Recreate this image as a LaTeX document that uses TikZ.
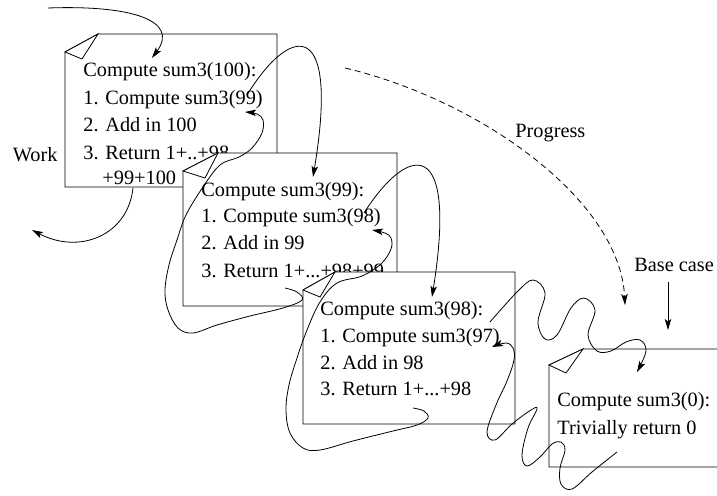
\documentclass[tikz,border=0pt]{standalone}
\usepackage{fontspec}
\setmainfont{Liberation Serif}
\usetikzlibrary{arrows.meta}
\begin{document}
\begin{tikzpicture}[x=1pt,y=-1pt,line width=0.8pt,
  txt/.style={font=\fontsize{20.3}{24}\selectfont, anchor=base west, inner sep=0pt},
  page/.style={draw=black, fill=white, line join=miter},
  arr/.style={-{Stealth[length=11pt,width=6.5pt,inset=2.5pt]}},
  flow/.style={arr, smooth, tension=0.6}]
\useasboundingbox (0,0) rectangle (717,495);
% ---- page 1
\draw[page] (98,34) -- (277,34) -- (277,187) -- (65,187) -- (65,52) -- cycle;
\draw[page] (65,52) -- (82,59) -- (98,34) -- cycle;
\node[txt] (t1a) at (83,77) {Compute sum3(100):};
\node[txt] (t1b) at (83,104) {1. Compute sum3(99)};
\node[txt] (t1c) at (83,131) {2. Add in 100};
\node[txt] (t1d) at (83,159) {3. Return 1+..+98};
\node[txt] (t1e) at (102,184) {+99+100};
% ---- page 2
\draw[page] (218,153) -- (397,153) -- (397,306) -- (183,306) -- (183,171) -- cycle;
\draw[page] (183,171) -- (205,178) -- (218,153) -- cycle;
\node[txt] (t2a) at (201,196) {Compute sum3(99):};
\node[txt] (t2b) at (201,222) {1. Compute sum3(98)};
\node[txt] (t2c) at (201,249) {2. Add in 99};
\node[txt] (t2d) at (201,277) {3. Return 1+...+98+99};
% ---- page 3
\draw[page] (335,272) -- (515,272) -- (515,424) -- (303,424) -- (303,290) -- cycle;
\draw[page] (303,290) -- (320,297) -- (335,272) -- cycle;
\node[txt] (t3a) at (320,315.5) {Compute sum3(98):};
\node[txt] (t3b) at (320,342) {1. Compute sum3(97)};
\node[txt] (t3c) at (320,369) {2. Add in 98};
\node[txt] (t3d) at (320,395.5) {3. Return 1+...+98};
% ---- page 4
\draw[page] (583,349) -- (730,349) -- (730,467) -- (549,467) -- (549,365) -- cycle;
\draw[page] (549,365) -- (566,373) -- (583,349) -- cycle;
\node[txt] (t4a) at (557,406.7) {Compute sum3(0):};
\node[txt] (t4b) at (557,434) {Trivially return 0};
% ---- labels
\node[txt] (work) at (12.5,161.7) {Work};
\node[txt] (prog) at (515,137.3) {Progress};
\node[txt] (base) at (634,271.7) {Base case};
% ---- connector end points
\coordinate (in0) at (48,8);
\coordinate (c1) at (152,58);
\coordinate (s1) at (247,95);
\coordinate (c2) at (313,177);
\coordinate (s2) at (364,213);
\coordinate (c3) at (432,297);
\coordinate (s3) at (490,322);
\coordinate (c4) at (637,372);
\coordinate (r4s) at (617,452);
\coordinate (r4e) at (492,347);
\coordinate (r3s) at (413,408);
\coordinate (r3e) at (372,230);
\coordinate (r2s) at (285,288);
\coordinate (r2e) at (245,112);
\coordinate (r1s) at (133,188);
\coordinate (out) at (32,230);
\coordinate (ps) at (345,68);
\coordinate (pe) at (625,305);
\coordinate (bs) at (668,282);
\coordinate (be) at (668,330);
% ---- calls
\draw[arr] (in0) .. controls (130,5) and (180,20) .. (c1);
\draw[arr] (s1) .. controls (290,25) and (340,15) .. (c2);
\draw[arr] (s2) .. controls (408,144) and (458,134) .. (c3);
\draw[flow] plot coordinates {(s3) (517,292) (533,280) (545,293) (538,322) (545,339) (557,335) (571,308) (584,298) (595,310) (588,335) (597,351) (611,351) (626,342) (640,340) (646,351) (c4)};
% ---- returns
\draw[flow] plot coordinates {(r4s) (592,472) (572,489) (561,484) (560,468) (565,450) (561,442) (552,444) (540,457) (527,466) (522,455) (528,428) (537,409) (531,410) (512,424) (495,440) (487,432) (496,405) (507,381) (514,360) (513,348) (506,343) (r4e)};
\draw[flow] plot coordinates {(r3s) (424,411) (428,418) (417,425) (393,431) (353,441) (320,450) (303,448) (290,433) (286,410) (289,385) (297,358) (307,330) (320,302) (337,283) (362,276) (381,264) (391,249) (391,238) (385,233) (r3e)};
\draw[flow] plot coordinates {(r2s) (297,292) (302,300) (283,308) (250,316) (217,325) (193,333) (178,328) (168,310) (165,290) (169,265) (177,240) (186,215) (203,187) (220,165) (239,157) (252,148) (262,133) (263,120) (257,114) (r2e)};
\draw[arr] (r1s) .. controls (128,235) and (80,255) .. (out);
% ---- progress and base case
\draw[arr, dash pattern=on 6pt off 4pt] (ps) .. controls (480,100) and (620,200) .. (pe);
\draw[arr] (bs) -- (be);
\end{tikzpicture}
\end{document}
